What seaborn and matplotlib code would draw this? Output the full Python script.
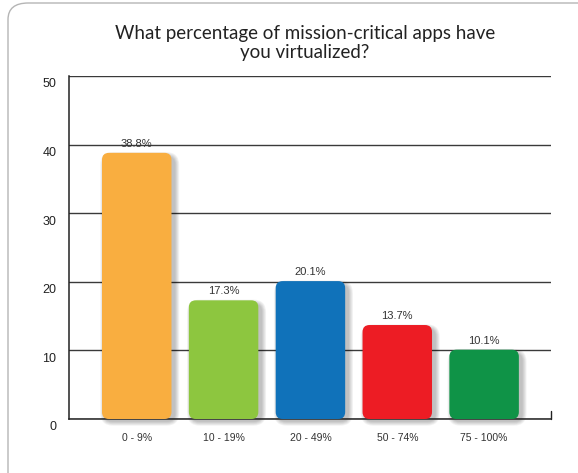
import matplotlib
matplotlib.use("Agg")
import matplotlib.pyplot as plt
import matplotlib.transforms as mtransforms
from matplotlib.patches import FancyBboxPatch
import seaborn as sns

# data
categories = ['0 - 9%', '10 - 19%', '20 - 49%', '50 - 74%', '75 - 100%']
values = [38.8, 17.3, 20.1, 13.7, 10.1]
bar_colors = ['#F9AE40', '#8DC63F', '#1072BA', '#ED1C24', '#0F9347']
title = 'What percentage of mission-critical apps have\nyou virtualized?'

sns.set_theme(style="white")
plt.rcParams['font.family'] = ['Liberation Sans', 'DejaVu Sans']

W, H = 578, 473
fig = plt.figure(figsize=(W / 100, H / 100), dpi=100)
ax = fig.add_axes([69 / W, (H - 419) / H, (551 - 69) / W, (419 - 76) / H])

sns.barplot(x=categories, y=values, hue=categories, palette=bar_colors,
            legend=False, width=0.8, saturation=1, ax=ax, zorder=3)

ax.set_xlim(-0.78, 4.77)
ax.set_ylim(0, 50)
ax.set_yticks([0, 10, 20, 30, 40, 50])

# pixels per data unit, needed for rounded corners and shadow offsets
px_x = (551 - 69) / (4.77 + 0.78)
px_y = (419 - 76) / 50.0
r_px = 7
aspect = (r_px / px_y) / (r_px / px_x)

bars = list(ax.patches)
for p in bars:
    x, y = p.get_x(), p.get_y()
    w, h = p.get_width(), p.get_height()
    fc = p.get_facecolor()
    p.remove()
    # soft drop shadow: layers growing outward, shifted right/down
    for i in range(1, 7):
        gx, gy = i * 0.8 / px_x, i * 0.8 / px_y
        sh = FancyBboxPatch((x + 3 / px_x - gx, y - 2 / px_y - gy),
                            w + 2 * gx, h + 2 * gy - 2 / px_y,
                            boxstyle=f"round,pad=0,rounding_size={(r_px + i) / px_x}",
                            mutation_aspect=aspect, fc='black', ec='none',
                            alpha=0.045, zorder=2, clip_on=False)
        ax.add_patch(sh)
    bar = FancyBboxPatch((x, y), w, h,
                         boxstyle=f"round,pad=0,rounding_size={r_px / px_x}",
                         mutation_aspect=aspect, fc=fc, ec='none', zorder=3)
    ax.add_patch(bar)
    ax.text(x + w / 2, h + 0.6, f'{h:.1f}%', ha='center', va='bottom',
            fontsize=8, color='#333333', zorder=4)

# grid and spines
ax.yaxis.grid(True, color='#3a3a3a', linewidth=1, zorder=1)
ax.set_axisbelow(True)
for s in ['top', 'right']:
    ax.spines[s].set_visible(False)
ax.spines['left'].set_color('#222222')
ax.spines['bottom'].set_color('#222222')
ax.spines['left'].set_linewidth(1.1)
ax.spines['bottom'].set_linewidth(1.1)
ax.plot([1, 1], [0, 8 / (419 - 76)], transform=ax.transAxes, color='#222222',
        linewidth=1, clip_on=False)

ax.tick_params(axis='y', length=0, pad=9, labelsize=9, labelcolor='#222222')
ax.tick_params(axis='x', length=0, pad=10, labelsize=7.5, labelcolor='#333333')
offset = mtransforms.ScaledTranslation(0, -5 / 72, fig.dpi_scale_trans)
for lab in ax.get_yticklabels():
    lab.set_transform(lab.get_transform() + offset)
ax.set_xlabel('')
ax.set_ylabel('')

# title
fig.text(305 / W, 1 - 43 / H, title, ha='center', va='center', fontsize=13.5,
         color='#222222', family=['Lato', 'DejaVu Sans'], linespacing=1.1)

# rounded frame around the figure
frame = FancyBboxPatch((8 / W, -20 / H), (W + 20) / W, (H + 20 - 3) / H,
                       boxstyle="round,pad=0,rounding_size=0.035",
                       transform=fig.transFigure, fc='none', ec='#b5b5b5',
                       linewidth=1, zorder=0)
fig.patches.append(frame)

fig.savefig('out.png', dpi=100, facecolor='white')
